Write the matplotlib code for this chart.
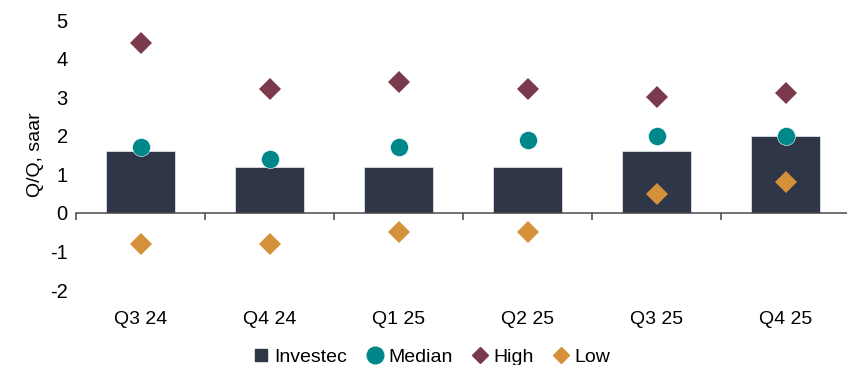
import matplotlib
matplotlib.use("Agg")
import matplotlib.pyplot as plt
import numpy as np

plt.rcParams['font.family'] = ['Liberation Sans', 'DejaVu Sans']
plt.rcParams['axes.unicode_minus'] = False

categories = ["Q3 24", "Q4 24", "Q1 25", "Q2 25", "Q3 25", "Q4 25"]
investec = [1.6, 1.2, 1.2, 1.2, 1.6, 2.0]
median = [1.7, 1.4, 1.7, 1.9, 2.0, 2.0]
high = [4.4, 3.2, 3.4, 3.2, 3.0, 3.1]
low = [-0.8, -0.8, -0.5, -0.5, 0.5, 0.8]

c_bar = "#2E3648"
c_med = "#00878A"
c_high = "#7B3A4B"
c_low = "#D4913A"

fig = plt.figure(figsize=(8.47, 3.65), dpi=100)
ax = fig.add_axes([76/847, 1-290/365, 774/847, 270/365])

x = np.arange(len(categories))
ax.bar(x, investec, width=0.53, color=c_bar, edgecolor="#dde0e6", linewidth=0.6, label="Investec", zorder=2)
ax.plot(x, median, 'o', color=c_med, markersize=13, markeredgecolor="white", markeredgewidth=0.4, label="Median", zorder=3)
ax.plot(x, high, 'D', color=c_high, markersize=11, markeredgewidth=0, label="High", zorder=3)
ax.plot(x, low, 'D', color=c_low, markersize=11, markeredgewidth=0, label="Low", zorder=3)

ax.set_xlim(-0.5, len(categories) - 0.5)
ax.set_ylim(-2, 5)
ax.set_yticks(range(-2, 6))
ax.tick_params(axis='y', length=0, labelsize=14.5, pad=6)

for s in ['top', 'right', 'left']:
    ax.spines[s].set_visible(False)
ax.spines['bottom'].set_position(('data', 0))
ax.spines['bottom'].set_color("#4a4a4a")
ax.spines['bottom'].set_linewidth(1.1)
ax.set_xticks(x)
ax.set_xticklabels(categories)
ax.set_xticks(np.arange(len(categories) + 1) - 0.5, minor=True)
ax.tick_params(axis='x', which='major', length=0, labelsize=14, pad=71)
ax.tick_params(axis='x', which='minor', length=5, width=1.1, color="#444444", direction='out')

ax.set_ylabel("Q/Q, saar", fontsize=14, labelpad=4)

handles = [
    plt.Line2D([], [], marker='s', linestyle='none', color=c_bar, markersize=9),
    plt.Line2D([], [], marker='o', linestyle='none', color=c_med, markersize=12),
    plt.Line2D([], [], marker='D', linestyle='none', color=c_high, markersize=8),
    plt.Line2D([], [], marker='D', linestyle='none', color=c_low, markersize=8),
]
fig.legend(handles, ["Investec", "Median", "High", "Low"], loc='lower center',
           bbox_to_anchor=(0.51, -0.05), ncol=4, frameon=False, fontsize=14,
           handlelength=0.8, handletextpad=0.3, columnspacing=1.0)

fig.savefig("out.png", dpi=100)
